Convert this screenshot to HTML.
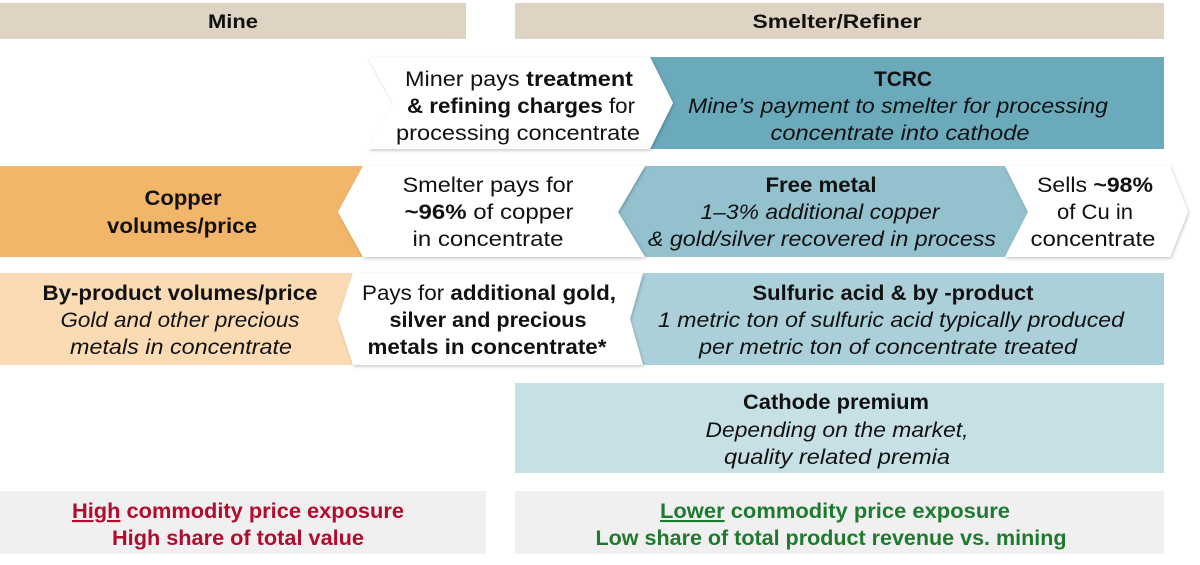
<!DOCTYPE html>
<html><head><meta charset="utf-8"><style>
html,body{margin:0;padding:0;background:#fff;width:1200px;height:565px;overflow:hidden}
svg{display:block}
text{font-family:"Liberation Sans",sans-serif;font-size:21px;fill:#111}
.b{font-weight:bold}
.i{font-style:italic}
</style></head><body>
<svg width="1200" height="565" viewBox="0 0 1200 565" xmlns="http://www.w3.org/2000/svg">
<defs>
<filter id="sh" x="-5%" y="-10%" width="110%" height="125%">
<feDropShadow dx="1" dy="1.5" stdDeviation="1.5" flood-color="#000" flood-opacity="0.22"/>
</filter>
</defs>
<!-- headers -->
<rect x="0" y="3" width="466" height="36" fill="#dfd3c3"/>
<rect x="515" y="3" width="649" height="36" fill="#dfd3c3"/>
<text class="b" x="233" y="28" text-anchor="middle" style="font-size:19px" textLength="50" lengthAdjust="spacingAndGlyphs">Mine</text>
<text class="b" x="837" y="28" text-anchor="middle" style="font-size:19px" textLength="169" lengthAdjust="spacingAndGlyphs">Smelter/Refiner</text>

<!-- row 1 -->
<polygon points="650,57 1164,57 1164,149 650,149 673,103" fill="#6aaabb"/>
<polygon points="368,57 650,57 673,103 650,149 368,149 393,103" fill="#fff" filter="url(#sh)"/>
<text x="519" y="86" text-anchor="middle" textLength="228" lengthAdjust="spacingAndGlyphs">Miner pays <tspan class="b">treatment</tspan></text>
<text x="521" y="113" text-anchor="middle" textLength="228" lengthAdjust="spacingAndGlyphs"><tspan class="b">&amp; refining charges</tspan> for</text>
<text x="518" y="140" text-anchor="middle" textLength="244" lengthAdjust="spacingAndGlyphs">processing concentrate</text>
<text class="b" x="903" y="86" text-anchor="middle" textLength="58" lengthAdjust="spacingAndGlyphs">TCRC</text>
<text class="i" x="898" y="113" text-anchor="middle" textLength="420" lengthAdjust="spacingAndGlyphs">Mine’s payment to smelter for processing</text>
<text class="i" x="900" y="140" text-anchor="middle" textLength="259" lengthAdjust="spacingAndGlyphs">concentrate into cathode</text>

<!-- row 2 -->
<polygon points="0,166 363,166 338,212 363,257 0,257" fill="#f2b66b"/>
<polygon points="645,166 1005,166 1028,212 1005,257 645,257 618,212" fill="#93c1cd"/>
<polygon points="363,166 645,166 618,212 645,257 363,257 338,212" fill="#fff" filter="url(#sh)"/>
<polygon points="1005,166 1170,166 1188,212 1170,257 1005,257 1028,212" fill="#fff" filter="url(#sh)"/>
<text class="b" x="183" y="205" text-anchor="middle" textLength="77" lengthAdjust="spacingAndGlyphs">Copper</text>
<text class="b" x="182" y="233" text-anchor="middle" textLength="150" lengthAdjust="spacingAndGlyphs">volumes/price</text>
<text x="488" y="192" text-anchor="middle" textLength="171" lengthAdjust="spacingAndGlyphs">Smelter pays for</text>
<text x="489" y="219" text-anchor="middle" textLength="169" lengthAdjust="spacingAndGlyphs"><tspan class="b">~96%</tspan> of copper</text>
<text x="488" y="246" text-anchor="middle" textLength="151" lengthAdjust="spacingAndGlyphs">in concentrate</text>
<text class="b" x="821" y="192" text-anchor="middle" textLength="111" lengthAdjust="spacingAndGlyphs">Free metal</text>
<text class="i" x="820" y="219" text-anchor="middle" textLength="239" lengthAdjust="spacingAndGlyphs">1–3% additional copper</text>
<text class="i" x="822" y="246" text-anchor="middle" textLength="348" lengthAdjust="spacingAndGlyphs">&amp; gold/silver recovered in process</text>
<text x="1095" y="192" text-anchor="middle" textLength="116" lengthAdjust="spacingAndGlyphs">Sells <tspan class="b">~98%</tspan></text>
<text x="1095" y="219" text-anchor="middle" textLength="76" lengthAdjust="spacingAndGlyphs">of Cu in</text>
<text x="1093" y="246" text-anchor="middle" textLength="125" lengthAdjust="spacingAndGlyphs">concentrate</text>

<!-- row 3 -->
<polygon points="0,273 353,273 338,319 353,365 0,365" fill="#fadbb4"/>
<polygon points="643,273 1164,273 1164,365 643,365 630,319" fill="#abd0d9"/>
<polygon points="353,273 643,273 630,319 643,365 353,365 338,319" fill="#fff" filter="url(#sh)"/>
<text class="b" x="180" y="300" text-anchor="middle" textLength="275" lengthAdjust="spacingAndGlyphs">By-product volumes/price</text>
<text class="i" x="180" y="327" text-anchor="middle" textLength="239" lengthAdjust="spacingAndGlyphs">Gold and other precious</text>
<text class="i" x="181" y="354" text-anchor="middle" textLength="222" lengthAdjust="spacingAndGlyphs">metals in concentrate</text>
<text x="489" y="300" text-anchor="middle" textLength="254" lengthAdjust="spacingAndGlyphs">Pays for <tspan class="b">additional gold,</tspan></text>
<text class="b" x="488" y="327" text-anchor="middle" textLength="197" lengthAdjust="spacingAndGlyphs">silver and precious</text>
<text class="b" x="487" y="354" text-anchor="middle" textLength="239" lengthAdjust="spacingAndGlyphs">metals in concentrate*</text>
<text class="b" x="893" y="300" text-anchor="middle" textLength="281" lengthAdjust="spacingAndGlyphs">Sulfuric acid &amp; by -product</text>
<text class="i" x="891" y="327" text-anchor="middle" textLength="466" lengthAdjust="spacingAndGlyphs">1 metric ton of sulfuric acid typically produced</text>
<text class="i" x="888" y="354" text-anchor="middle" textLength="378" lengthAdjust="spacingAndGlyphs">per metric ton of concentrate treated</text>

<!-- cathode -->
<rect x="515" y="383" width="649" height="90" fill="#c7e0e6"/>
<text class="b" x="836" y="409" text-anchor="middle" textLength="186" lengthAdjust="spacingAndGlyphs">Cathode premium</text>
<text class="i" x="837" y="437" text-anchor="middle" textLength="263" lengthAdjust="spacingAndGlyphs">Depending on the market,</text>
<text class="i" x="837" y="464" text-anchor="middle" textLength="226" lengthAdjust="spacingAndGlyphs">quality related premia</text>

<!-- bottom -->
<rect x="0" y="491" width="486" height="63" fill="#f0f0f0"/>
<rect x="515" y="491" width="649" height="63" fill="#f0f0f0"/>
<text class="b" x="238" y="518" text-anchor="middle" textLength="332" lengthAdjust="spacingAndGlyphs" style="fill:#b30b2e"><tspan style="text-decoration:underline">High</tspan> commodity price exposure</text>
<text class="b" x="238" y="545" text-anchor="middle" textLength="252" lengthAdjust="spacingAndGlyphs" style="fill:#b30b2e">High share of total value</text>
<text class="b" x="835" y="518" text-anchor="middle" textLength="350" lengthAdjust="spacingAndGlyphs" style="fill:#1f7a30"><tspan style="text-decoration:underline">Lower</tspan> commodity price exposure</text>
<text class="b" x="831" y="545" text-anchor="middle" textLength="471" lengthAdjust="spacingAndGlyphs" style="fill:#1f7a30">Low share of total product revenue vs. mining</text>
</svg>
</body></html>
